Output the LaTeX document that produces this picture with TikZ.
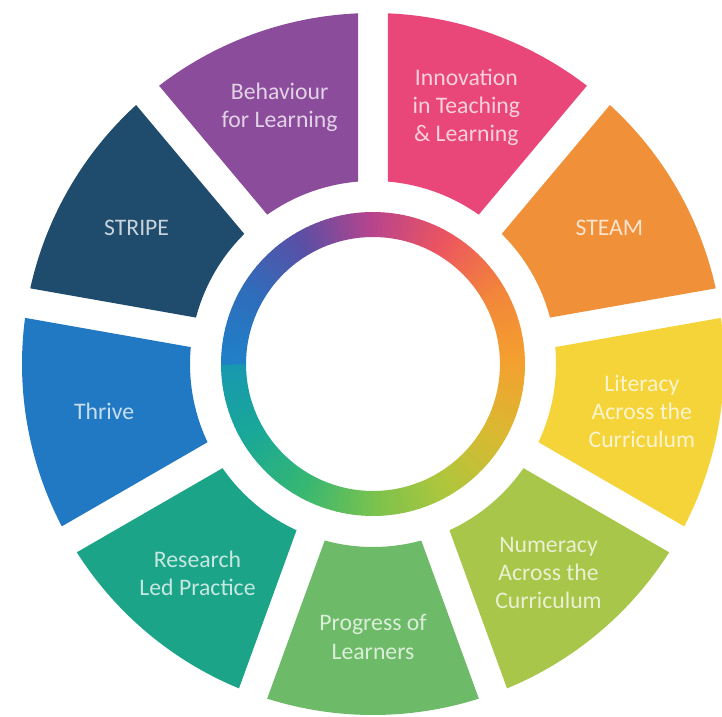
\documentclass[tikz,border=0pt]{standalone}
\usepackage{fontspec}
\setmainfont{Carlito}
\usepackage{tikz}
\usetikzlibrary{calc}
\definecolor{behavCol}{HTML}{8C4C9C}
\definecolor{innovCol}{HTML}{E9477A}
\definecolor{steamCol}{HTML}{F0913A}
\definecolor{literCol}{HTML}{F5D43A}
\definecolor{numerCol}{HTML}{A8C64A}
\definecolor{progrCol}{HTML}{6DBA68}
\definecolor{reseaCol}{HTML}{1BA488}
\definecolor{thrivCol}{HTML}{2279C3}
\definecolor{stripCol}{HTML}{1F4B6C}
% colour stops of the inner ring, every 30 degrees from -180
\definecolor{rc0}{HTML}{1898B0}
\definecolor{rc1}{HTML}{19A898}
\definecolor{rc2}{HTML}{35B673}
\definecolor{rc3}{HTML}{79C24E}
\definecolor{rc4}{HTML}{AEC63C}
\definecolor{rc5}{HTML}{D9B932}
\definecolor{rc6}{HTML}{F3A12E}
\definecolor{rc7}{HTML}{F2853A}
\definecolor{rc8}{HTML}{EC5560}
\definecolor{rc9}{HTML}{B8448C}
\definecolor{rc10}{HTML}{5A4FA5}
\definecolor{rc11}{HTML}{2F6DBB}
\definecolor{rc12}{HTML}{1F80C8}
\tikzstyle{segLabel}=[align=center, inner sep=0pt, font=\fontsize{13.5}{16}\selectfont]
\tikzstyle{ringPiece}=[line width=0.1pt]

\begin{document}
\begin{tikzpicture}
  \useasboundingbox (-7.46,-7.04) rectangle (6.98,7.28);
  \def\rOut{7.02} \def\rIn{3.66} \def\gapH{0.30}
  \def\ringA{3.04} \def\ringB{2.54}
  \pgfmathsetmacro{\dO}{asin(\gapH/\rOut)}
  \pgfmathsetmacro{\dI}{asin(\gapH/\rIn)}

  % outer segments
  \foreach \a/\col/\name/\txt in {
      110/behavCol/behaviour/{Behaviour\\for Learning},
      70/innovCol/innovation/{Innovation\\in Teaching\\\& Learning},
      30/steamCol/steam/{STEAM},
      -10/literCol/literacy/{Literacy\\Across the\\Curriculum},
      -50/numerCol/numeracy/{Numeracy\\Across the\\Curriculum},
      -90/progrCol/progress/{Progress of\\Learners},
      -130/reseaCol/research/{Research\\Led Practice},
      190/thrivCol/thrive/{Thrive},
      150/stripCol/stripe/{STRIPE}} {
    \pgfmathsetmacro{\aLo}{\a-20}
    \pgfmathsetmacro{\aHi}{\a+20}
    \fill[\col] (\aLo+\dO:\rOut) arc[start angle=\aLo+\dO, end angle=\aHi-\dO, radius=\rOut]
      -- (\aHi-\dI:\rIn) arc[start angle=\aHi-\dI, end angle=\aLo+\dI, radius=\rIn] -- cycle;
    \node[segLabel, text=white!75!\col] (\name) at (\a:5.46) {\txt};
  }

  % inner ring
  \foreach \aS/\cS/\cE in {-180/rc0/rc1, -150/rc1/rc2, -120/rc2/rc3, -90/rc3/rc4,
      -60/rc4/rc5, -30/rc5/rc6, 0/rc6/rc7, 30/rc7/rc8, 60/rc8/rc9,
      90/rc9/rc10, 120/rc10/rc11, 150/rc11/rc12} {
    \foreach \k in {0,...,14} {
      \pgfmathtruncatemacro{\pct}{100*(\k+0.5)/15}
      \pgfmathsetmacro{\b}{\aS+2*\k}
      \fill[ringPiece, \cE!\pct!\cS] (\b:\ringA) arc[start angle=\b, end angle=\b+2.2, radius=\ringA]
        -- (\b+2.2:\ringB) arc[start angle=\b+2.2, end angle=\b, radius=\ringB] -- cycle;
    }
  }
\end{tikzpicture}
\end{document}
